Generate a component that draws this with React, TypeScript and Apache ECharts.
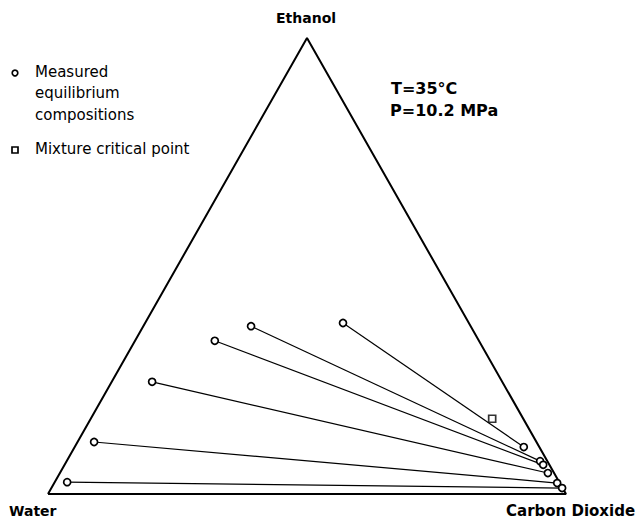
import React, { useEffect, useRef } from "react";
import * as echarts from "echarts";

// Mole fractions (ethanol, carbon dioxide); water = 1 - both
const liquidEthanol = [0.375, 0.368, 0.336, 0.246, 0.114, 0.026];
const liquidCO2 = [0.382, 0.208, 0.154, 0.078, 0.032, 0.024];
const vaporEthanol = [0.103, 0.072, 0.064, 0.046, 0.024, 0.013];
const vaporCO2 = [0.867, 0.914, 0.924, 0.942, 0.971, 0.986];
const criticalEthanol = [0.165];
const criticalCO2 = [0.775];
// Triangle vertices: Water, Carbon Dioxide, Ethanol, back to Water
const vertexEthanol = [0, 0, 1, 0];
const vertexCO2 = [0, 1, 0, 0];

const toXY = (e: number, c: number) => [c + e / 2, e];

export default function App() {
  const ref = useRef<HTMLDivElement>(null);
  useEffect(() => {
    if (!ref.current) return;
    const chart = echarts.init(ref.current, null, { renderer: "svg" });
    const font = "DejaVu Sans";
    const series: any[] = [
      {
        type: "line",
        data: vertexEthanol.map((e, i) => toXY(e, vertexCO2[i])),
        symbol: "none",
        lineStyle: { color: "#000", width: 2 },
        z: 1,
      },
    ];
    liquidEthanol.forEach((e, i) => {
      series.push({
        type: "line",
        data: [toXY(e, liquidCO2[i]), toXY(vaporEthanol[i], vaporCO2[i])],
        symbol: "circle",
        symbolSize: 7,
        showAllSymbol: true,
        itemStyle: { color: "#fff", borderColor: "#000", borderWidth: 1.7 },
        lineStyle: { color: "#000", width: 1.2 },
        z: 2,
      });
    });
    series.push({
      type: "scatter",
      data: criticalEthanol.map((e, i) => toXY(e, criticalCO2[i])),
      symbol: "rect",
      symbolSize: 7,
      itemStyle: { color: "#fff", borderColor: "#000", borderWidth: 1.7 },
      z: 3,
    });
    chart.setOption({
      animation: false,
      backgroundColor: "#fff",
      grid: { left: 48, top: 38, width: 518, height: 456 },
      xAxis: { type: "value", min: 0, max: 1, show: false },
      yAxis: { type: "value", min: 0, max: 1, show: false },
      series,
      graphic: [
        { type: "text", left: 276, top: 11, style: { text: "Ethanol", font: `bold 14px ${font}`, fill: "#000" } },
        { type: "text", left: 9, top: 504, style: { text: "Water", font: `bold 14px ${font}`, fill: "#000" } },
        { type: "text", left: 506, top: 503, style: { text: "Carbon Dioxide", font: `bold 15px ${font}`, fill: "#000" } },
        { type: "text", left: 391, top: 80, style: { text: "T=35°C", font: `bold 16px ${font}`, fill: "#000" } },
        { type: "text", left: 390, top: 102, style: { text: "P=10.2 MPa", font: `bold 16px ${font}`, fill: "#000" } },
        { type: "circle", shape: { cx: 15, cy: 73, r: 2.8 }, style: { fill: "#fff", stroke: "#000", lineWidth: 1.7 } },
        { type: "rect", shape: { x: 12, y: 147, width: 6, height: 6 }, style: { fill: "#fff", stroke: "#000", lineWidth: 1.7 } },
        { type: "text", left: 35, top: 64, style: { text: "Measured", font: `15px ${font}`, fill: "#000" } },
        { type: "text", left: 35, top: 85, style: { text: "equilibrium", font: `15px ${font}`, fill: "#000" } },
        { type: "text", left: 35, top: 107, style: { text: "compositions", font: `15px ${font}`, fill: "#000" } },
        { type: "text", left: 35, top: 141, style: { text: "Mixture critical point", font: `15px ${font}`, fill: "#000" } },
      ],
    });
    return () => chart.dispose();
  }, []);
  return (
    <div
      ref={ref}
      style={{ position: "fixed", left: 0, top: 0, width: 641, height: 520, background: "#fff" }}
    />
  );
}
